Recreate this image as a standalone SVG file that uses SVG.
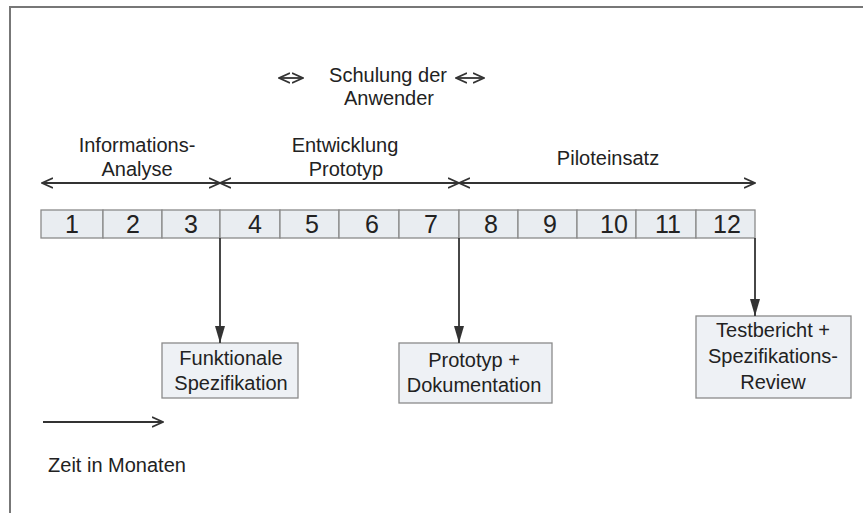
<svg xmlns="http://www.w3.org/2000/svg" width="863" height="513" viewBox="0 0 863 513">
<defs>
<style>
text{font-family:"Liberation Sans",Arial,sans-serif;fill:#222;text-anchor:middle}
.lbl{font-size:20px}
.num{font-size:25px}
.cell{fill:#e9edf1;stroke:#8a8a8a;stroke-width:1.3}
.box{fill:#eef1f5;stroke:#8a8a8a;stroke-width:1.3}
.ln{stroke:#333;stroke-width:1.8;fill:none}
</style>
<marker id="open" viewBox="0 0 12 12" refX="11" refY="6" markerWidth="12" markerHeight="12" markerUnits="userSpaceOnUse" orient="auto-start-reverse">
<path d="M0,1 L11,6 L0,11" fill="none" stroke="#333" stroke-width="1.8"/>
</marker>
<marker id="fill" viewBox="0 0 10 17" refX="5" refY="17" markerWidth="10" markerHeight="17" markerUnits="userSpaceOnUse" orient="0">
<path d="M0,0 L10,0 L5,17 Z" fill="#333"/>
</marker>
</defs>
<rect width="863" height="513" fill="#fff"/>
<path d="M10,513 L10,7 L863,7" fill="none" stroke="#777" stroke-width="2"/>

<g id="timeline">
<rect class="cell" x="41" y="210" width="62" height="28"/>
<rect class="cell" x="103" y="210" width="59" height="28"/>
<rect class="cell" x="162" y="210" width="58" height="28"/>
<rect class="cell" x="220" y="210" width="60" height="28"/>
<rect class="cell" x="280" y="210" width="59" height="28"/>
<rect class="cell" x="339" y="210" width="60" height="28"/>
<rect class="cell" x="399" y="210" width="60" height="28"/>
<rect class="cell" x="459" y="210" width="59" height="28"/>
<rect class="cell" x="518" y="210" width="59" height="28"/>
<rect class="cell" x="577" y="210" width="59" height="28"/>
<rect class="cell" x="636" y="210" width="60" height="28"/>
<rect class="cell" x="696" y="210" width="59" height="28"/>
<text class="num" x="72" y="233">1</text>
<text class="num" x="133" y="233">2</text>
<text class="num" x="191" y="233">3</text>
<text class="num" x="255" y="233">4</text>
<text class="num" x="312" y="233">5</text>
<text class="num" x="372" y="233">6</text>
<text class="num" x="431" y="233">7</text>
<text class="num" x="491" y="233">8</text>
<text class="num" x="550" y="233">9</text>
<text class="num" x="614" y="233">10</text>
<text class="num" x="668" y="233">11</text>
<text class="num" x="727" y="233">12</text>
</g>

<g id="phase-analyse">
<text class="lbl" x="137" y="152">Informations-</text>
<text class="lbl" x="137" y="176">Analyse</text>
</g>
<g id="phase-prototyp">
<text class="lbl" x="345" y="152">Entwicklung</text>
<text class="lbl" x="346" y="176">Prototyp</text>
</g>
<g id="phase-pilot">
<text class="lbl" x="608" y="165">Piloteinsatz</text>
</g>
<g id="schulung">
<text class="lbl" x="388" y="82">Schulung der</text>
<text class="lbl" x="389" y="105">Anwender</text>
</g>

<g id="box-spez">
<rect class="box" x="162" y="343" width="136" height="55"/>
<text class="lbl" x="231" y="365">Funktionale</text>
<text class="lbl" x="231" y="390">Spezifikation</text>
</g>
<g id="box-proto">
<rect class="box" x="399" y="343" width="153" height="60"/>
<text class="lbl" x="474" y="367">Prototyp +</text>
<text class="lbl" x="474" y="392">Dokumentation</text>
</g>
<g id="box-test">
<rect class="box" x="696" y="316" width="155" height="82"/>
<text class="lbl" x="773" y="337">Testbericht +</text>
<text class="lbl" x="773" y="363">Spezifikations-</text>
<text class="lbl" x="773" y="389">Review</text>
</g>

<g id="legend">
<text class="lbl" x="117" y="472">Zeit in Monaten</text>
</g>

<g id="connectors">
<line class="ln" x1="42" y1="183" x2="220" y2="183" marker-start="url(#open)" marker-end="url(#open)"/>
<line class="ln" x1="220" y1="183" x2="459" y2="183" marker-start="url(#open)" marker-end="url(#open)"/>
<line class="ln" x1="459" y1="183" x2="755" y2="183" marker-start="url(#open)" marker-end="url(#open)"/>
<line class="ln" x1="279" y1="78" x2="303" y2="78" marker-start="url(#open)" marker-end="url(#open)"/>
<line class="ln" x1="456" y1="78" x2="484" y2="78" marker-start="url(#open)" marker-end="url(#open)"/>
<line class="ln" x1="43" y1="422" x2="163" y2="422" marker-end="url(#open)"/>
<line class="ln" x1="220" y1="238" x2="220" y2="343" marker-end="url(#fill)"/>
<line class="ln" x1="459" y1="238" x2="459" y2="343" marker-end="url(#fill)"/>
<line class="ln" x1="755" y1="238" x2="755" y2="316" marker-end="url(#fill)"/>
</g>
</svg>
